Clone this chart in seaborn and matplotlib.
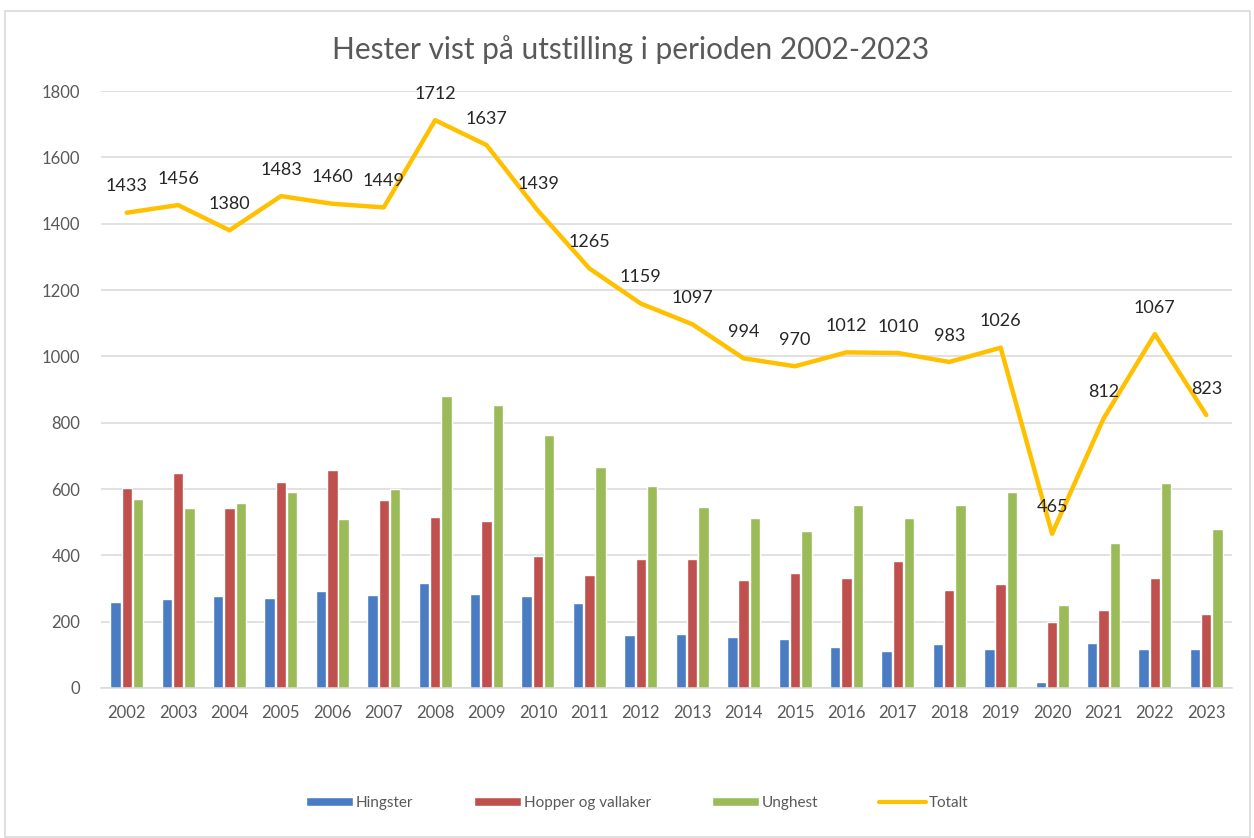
import numpy as np
import pandas as pd
import matplotlib
matplotlib.use("Agg")
import matplotlib.pyplot as plt
from matplotlib.patches import Rectangle, Patch
from matplotlib.lines import Line2D
import seaborn as sns

years = [str(y) for y in range(2002, 2024)]
hingster = [260, 267, 277, 270, 292, 281, 316, 282, 276, 255, 159, 164, 155, 149, 124, 112, 134, 117, 18, 137, 117, 117]
hopper = [603, 647, 544, 622, 658, 567, 515, 503, 399, 342, 390, 390, 327, 348, 332, 384, 294, 315, 198, 235, 332, 223]
unghest = [570, 542, 559, 591, 510, 601, 881, 852, 764, 667, 609, 545, 513, 474, 553, 513, 553, 592, 249, 438, 619, 480]
totalt = [1433, 1456, 1380, 1483, 1460, 1449, 1712, 1637, 1439, 1265, 1159, 1097, 994, 970, 1012, 1010, 983, 1026, 465, 812, 1067, 823]
series_names = ["Hingster", "Hopper og vallaker", "Unghest", "Totalt"]
title = "Hester vist på utstilling i perioden 2002-2023"

colors = ["#4A7CC4", "#C0504D", "#9BBB59", "#FFC000"]
txt = "#595959"

sns.set_theme(style="white")
plt.rcParams["font.family"] = ["Lato", "DejaVu Sans"]

df = pd.DataFrame({
    "År": years * 3,
    "Antall": hingster + hopper + unghest,
    "Serie": [series_names[0]] * len(years) + [series_names[1]] * len(years) + [series_names[2]] * len(years),
})

fig = plt.figure(figsize=(12.54, 8.38), dpi=100)
ax = fig.add_axes([101 / 1254, 1 - 688 / 838, (1232 - 101) / 1254, (688 - 91) / 838])

sns.barplot(data=df, x="År", y="Antall", hue="Serie", hue_order=series_names[:3],
            palette=colors[:3], width=0.66, gap=0.08, ax=ax, legend=False,
            saturation=1, errorbar=None)

xpos = np.arange(len(years))
sns.lineplot(x=xpos, y=totalt, color=colors[3], linewidth=3.2, ax=ax, legend=False)

for xi, v in zip(xpos, totalt):
    ax.annotate(str(v), (xi, v), xytext=(0, 19), textcoords="offset points",
                ha="center", va="center", fontsize=13, color="#262626")

ax.set_ylim(0, 1800)
ax.set_xlim(-0.5, len(years) - 0.5)
ax.set_yticks(range(0, 1801, 200))
ax.yaxis.grid(True, color="#D9D9D9", linewidth=1.1)
ax.set_axisbelow(True)
for s in ["top", "right", "left"]:
    ax.spines[s].set_visible(False)
ax.spines["bottom"].set_color("#D9D9D9")
ax.spines["bottom"].set_linewidth(1.1)
ax.tick_params(axis="both", length=0, labelsize=12, labelcolor=txt)
ax.tick_params(axis="x", pad=12)
ax.tick_params(axis="y", pad=15)
ax.set_xlabel("")
ax.set_ylabel("")

fig.text(631 / 1254, 1 - 50 / 838, title, ha="center", va="center",
         fontsize=21.5, color=txt)

handles = [Patch(facecolor=colors[0]), Patch(facecolor=colors[1]), Patch(facecolor=colors[2]),
           Line2D([0], [0], color=colors[3], linewidth=3)]
leg = fig.legend(handles, series_names, loc="center", bbox_to_anchor=(637 / 1254, 1 - 803 / 838),
                 ncol=4, frameon=False, fontsize=11, handlelength=3.1, handleheight=0.45,
                 handletextpad=0.15, columnspacing=4.0, labelcolor=txt)

fig.patches.append(Rectangle((5 / 1254, 1 / 838), 1245 / 1254, 826 / 838, transform=fig.transFigure,
                             fill=False, edgecolor="#D9D9D9", linewidth=1.2))

fig.savefig("out.png", dpi=100)
